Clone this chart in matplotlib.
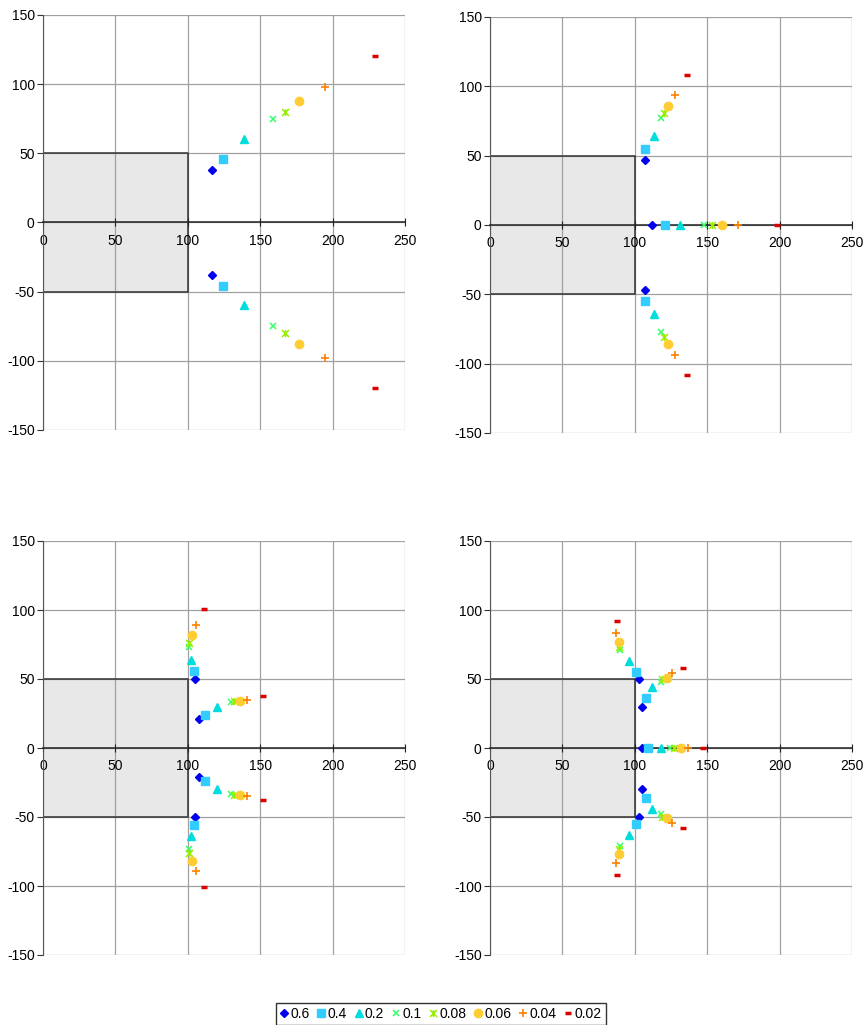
import matplotlib
matplotlib.use("Agg")
import matplotlib.pyplot as plt
from matplotlib.patches import Rectangle
from matplotlib.path import Path

plt.rcParams['font.family'] = ['Liberation Sans', 'DejaVu Sans']
plt.rcParams['axes.unicode_minus'] = False

# ---- data ----
series = ["0.6", "0.4", "0.2", "0.1", "0.08", "0.06", "0.04", "0.02"]

p1_x = [[117, 117], [124, 124], [139, 139], [159, 159], [167, 167], [177, 177], [195, 195], [229, 229]]
p1_y = [[38, -38], [46, -46], [60, -60], [75, -75], [80, -80], [88, -88], [98, -98], [120, -120]]

p2_x = [[107, 112, 107], [107, 121, 107], [113, 131, 113], [118, 148, 118],
        [120, 153, 120], [123, 160, 123], [128, 171, 128], [136, 198, 136]]
p2_y = [[47, 0, -47], [55, 0, -55], [64, 0, -64], [77, 0, -77],
        [81, 0, -81], [86, 0, -86], [94, 0, -94], [108, 0, -108]]

p3_x = [[105, 108, 108, 105], [104, 112, 112, 104], [102, 120, 120, 102], [101, 130, 130, 101],
        [101, 132, 132, 101], [103, 136, 136, 103], [106, 141, 141, 106], [111, 152, 152, 111]]
p3_y = [[50, 21, -21, -50], [56, 24, -24, -56], [64, 30, -30, -64], [73, 33, -33, -73],
        [76, 34, -34, -76], [82, 34, -34, -82], [89, 35, -35, -89], [101, 38, -38, -101]]

p4_x = [[103, 105, 105, 105, 103], [101, 108, 109, 108, 101], [96, 112, 118, 112, 96],
        [90, 118, 124, 118, 90], [89, 119, 127, 119, 89], [89, 122, 132, 122, 89],
        [87, 126, 137, 126, 87], [88, 133, 147, 133, 88]]
p4_y = [[50, 30, 0, -30, -50], [55, 36, 0, -36, -55], [63, 44, 0, -44, -63],
        [71, 48, 0, -48, -71], [73, 50, 0, -50, -73], [77, 51, 0, -51, -77],
        [83, 54, 0, -54, -83], [92, 58, 0, -58, -92]]

xticks = [0, 50, 100, 150, 200, 250]
yticks = [-150, -100, -50, 0, 50, 100, 150]

# excel style star: x with a vertical bar
star = Path([(-1, -1), (1, 1), (-1, 1), (1, -1), (0, -1), (0, 1)],
            [Path.MOVETO, Path.LINETO, Path.MOVETO, Path.LINETO, Path.MOVETO, Path.LINETO])

styles = [
    dict(marker='D', color='#0000ee', ms=4.5),
    dict(marker='s', color='#33ccff', ms=5.5),
    dict(marker='^', color='#00dddd', ms=6),
    dict(marker='x', color='#33ff66', ms=5, mew=1.1),
    dict(marker=star, color='#99ee00', ms=5, mew=1.1),
    dict(marker='o', color='#ffcc33', ms=6),
    dict(marker='+', color='#ff8000', ms=6, mew=1.2),
    dict(marker='_', color='#dd0000', ms=4.5, mew=2.5),
]

fig = plt.figure(figsize=(8.66, 10.25), dpi=100)

W, H = 866.0, 1025.0
boxes = [(43, 15, 405, 430), (490, 17, 852, 433), (43, 541, 405, 955), (490, 541, 852, 955)]
data = [(p1_x, p1_y), (p2_x, p2_y), (p3_x, p3_y), (p4_x, p4_y)]

handles = []
for (x0, y0, x1, y1), (px, py) in zip(boxes, data):
    ax = fig.add_axes([x0 / W, 1 - y1 / H, (x1 - x0) / W, (y1 - y0) / H])
    ax.set_xlim(0, 250)
    ax.set_ylim(-150, 150)
    # grey block first, then grid over it, then axis lines and labels
    ax.add_patch(Rectangle((0, -50), 100, 100, facecolor='#e8e8e8', edgecolor='none', zorder=0.2))
    for t in xticks:
        ax.axvline(t, color='#a0a0a0', lw=0.9, zorder=0.5)
    for t in yticks:
        ax.axhline(t, color='#a0a0a0', lw=0.9, zorder=0.5)
    ax.plot([0, 100, 100, 0], [50, 50, -50, -50], color='#333333', lw=1.1, zorder=1)
    for xs, ys, st in zip(px, py, styles):
        h, = ax.plot(xs, ys, ls='none', marker=st['marker'], color=st['color'],
                     markersize=st['ms'], markeredgewidth=st.get('mew', 1.0), zorder=5,
                     clip_on=False)
        if len(handles) < len(styles):
            handles.append(h)
    ax.set_xticks(xticks)
    ax.set_yticks(yticks)
    for s in ['top', 'right']:
        ax.spines[s].set_visible(False)
    ax.spines['left'].set_color('#555555')
    ax.spines['bottom'].set_position(('data', 0))
    ax.spines['bottom'].set_color('#222222')
    ax.spines['bottom'].set_linewidth(1.1)
    ax.spines['bottom'].set_zorder(3)
    ax.tick_params(axis='x', direction='inout', length=6, color='#222222', labelsize=10, pad=5)
    ax.tick_params(axis='y', direction='out', length=4, color='#333333', labelsize=10, pad=2)

leg = fig.legend(handles, series, loc='center', bbox_to_anchor=(0.509, 1 - 1014 / H), ncol=8,
                 fontsize=10, frameon=True, fancybox=False, handlelength=0.6,
                 handletextpad=0.15, columnspacing=0.55, borderpad=0.3, edgecolor='black')
leg.get_frame().set_linewidth(1.0)

fig.savefig('out.png', dpi=100)
